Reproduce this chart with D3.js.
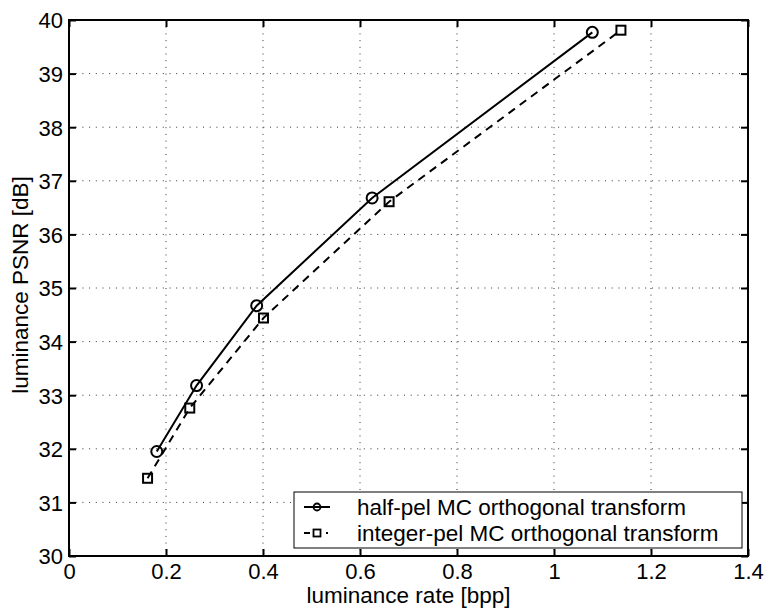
<!DOCTYPE html>
<html>
<head>
<meta charset="utf-8">
<script src="https://cdn.jsdelivr.net/npm/d3@7.9.0/dist/d3.min.js"></script>
<style>
  body { margin: 0; background: #fff; }
  svg { display: block; font-family: "Liberation Sans", Arial, sans-serif; }
</style>
</head>
<body>
<svg width="765" height="609"></svg>
<script>
// data
let halfRate = [0.181, 0.263, 0.387, 0.625, 1.079];
let halfPsnr = [31.95, 33.18, 34.67, 36.68, 39.77];
let intRate = [0.162, 0.249, 0.401, 0.660, 1.138];
let intPsnr = [31.45, 32.76, 34.44, 36.61, 39.81];
let xTicks = [0, 0.2, 0.4, 0.6, 0.8, 1, 1.2, 1.4];
let yTicks = [30, 31, 32, 33, 34, 35, 36, 37, 38, 39, 40];
let legendLabels = ['half-pel MC orthogonal transform', 'integer-pel MC orthogonal transform'];

let svg = d3.select('svg');
let plotLeft = 69, plotRight = 748, plotTop = 20, plotBottom = 556;

let x = d3.scaleLinear().domain([0, 1.4]).range([plotLeft, plotRight]);
let y = d3.scaleLinear().domain([30, 40]).range([plotBottom, plotTop]);

// dotted grid
let grid = svg.append('g')
    .attr('stroke', '#333')
    .attr('stroke-width', 1)
    .attr('stroke-dasharray', '1,5.7');
xTicks.slice(1, -1).forEach((t) => {
    grid.append('line')
        .attr('x1', x(t)).attr('x2', x(t))
        .attr('y1', plotTop).attr('y2', plotBottom);
});
yTicks.slice(1, -1).forEach((t) => {
    grid.append('line')
        .attr('x1', plotLeft).attr('x2', plotRight)
        .attr('y1', y(t)).attr('y2', y(t));
});

// axes with inward ticks on all sides
let fmt = (d) => String(d);
let gx = svg.append('g').attr('transform', `translate(0,${plotBottom})`)
    .call(d3.axisBottom(x).tickValues(xTicks).tickFormat(fmt).tickSizeInner(-7).tickSizeOuter(0).tickPadding(7));
let gxTop = svg.append('g').attr('transform', `translate(0,${plotTop})`)
    .call(d3.axisTop(x).tickValues(xTicks).tickFormat('').tickSizeInner(-7).tickSizeOuter(0));
let gy = svg.append('g').attr('transform', `translate(${plotLeft},0)`)
    .call(d3.axisLeft(y).tickValues(yTicks).tickFormat(fmt).tickSizeInner(-7).tickSizeOuter(0).tickPadding(6));
let gyRight = svg.append('g').attr('transform', `translate(${plotRight},0)`)
    .call(d3.axisRight(y).tickValues(yTicks).tickFormat('').tickSizeInner(-7).tickSizeOuter(0));

[gx, gxTop, gy, gyRight].forEach((g) => {
    g.select('.domain').remove();
    g.selectAll('line').attr('stroke', '#000').attr('stroke-width', 2);
    g.selectAll('text').attr('fill', '#000').style('font-size', '22px');
});
gy.selectAll('text').attr('dy', '0.36em');

// frame
svg.append('rect')
    .attr('x', plotLeft).attr('y', plotTop)
    .attr('width', plotRight - plotLeft).attr('height', plotBottom - plotTop)
    .attr('fill', 'none').attr('stroke', '#000').attr('stroke-width', 2);

// axis titles
svg.append('text')
    .attr('x', (plotLeft + plotRight) / 2).attr('y', 603)
    .attr('text-anchor', 'middle')
    .style('font-size', '22.5px')
    .text('luminance rate [bpp]');
svg.append('text')
    .attr('transform', 'translate(28,285) rotate(-90)')
    .attr('text-anchor', 'middle')
    .style('font-size', '22.5px')
    .text('luminance PSNR [dB]');

// series
let line = d3.line().x((d) => x(d[0])).y((d) => y(d[1]));
let halfData = halfRate.map((r, i) => [r, halfPsnr[i]]);
let intData = intRate.map((r, i) => [r, intPsnr[i]]);

svg.append('path')
    .attr('d', line(halfData))
    .attr('fill', 'none').attr('stroke', '#000').attr('stroke-width', 2);
svg.append('path')
    .attr('d', line(intData))
    .attr('fill', 'none').attr('stroke', '#000').attr('stroke-width', 2)
    .attr('stroke-dasharray', '8,6');

svg.selectAll('circle.half')
    .data(halfData)
    .join('circle')
    .attr('class', 'half')
    .attr('cx', (d) => x(d[0])).attr('cy', (d) => y(d[1]))
    .attr('r', 5.5)
    .attr('fill', 'none').attr('stroke', '#000').attr('stroke-width', 2);
svg.selectAll('rect.int')
    .data(intData)
    .join('rect')
    .attr('class', 'int')
    .attr('x', (d) => x(d[0]) - 4.5).attr('y', (d) => y(d[1]) - 4.5)
    .attr('width', 9).attr('height', 9)
    .attr('fill', 'none').attr('stroke', '#000').attr('stroke-width', 2);

// legend
let legend = svg.append('g');
legend.append('rect')
    .attr('x', 294).attr('y', 492)
    .attr('width', 448).attr('height', 56)
    .attr('fill', '#fff').attr('stroke', '#000').attr('stroke-width', 1);

legendLabels.forEach((label, i) => {
    let ly = 507 + i * 26;
    legend.append('line')
        .attr('x1', 304).attr('x2', i === 0 ? 330 : 328)
        .attr('y1', ly).attr('y2', ly)
        .attr('stroke', '#000').attr('stroke-width', 2)
        .attr('stroke-dasharray', i === 0 ? null : '6,5');
    if (i === 0) {
        legend.append('circle')
            .attr('cx', 317).attr('cy', ly).attr('r', 3.5)
            .attr('fill', 'none').attr('stroke', '#000').attr('stroke-width', 1.8);
    } else {
        legend.append('rect')
            .attr('x', 313.5).attr('y', ly - 3.5).attr('width', 7).attr('height', 7)
            .attr('fill', '#fff').attr('stroke', '#000').attr('stroke-width', 1.8);
    }
    legend.append('text')
        .attr('x', 357).attr('y', ly)
        .attr('dy', '0.36em')
        .style('font-size', '22.5px')
        .text(label);
});
</script>
</body>
</html>
